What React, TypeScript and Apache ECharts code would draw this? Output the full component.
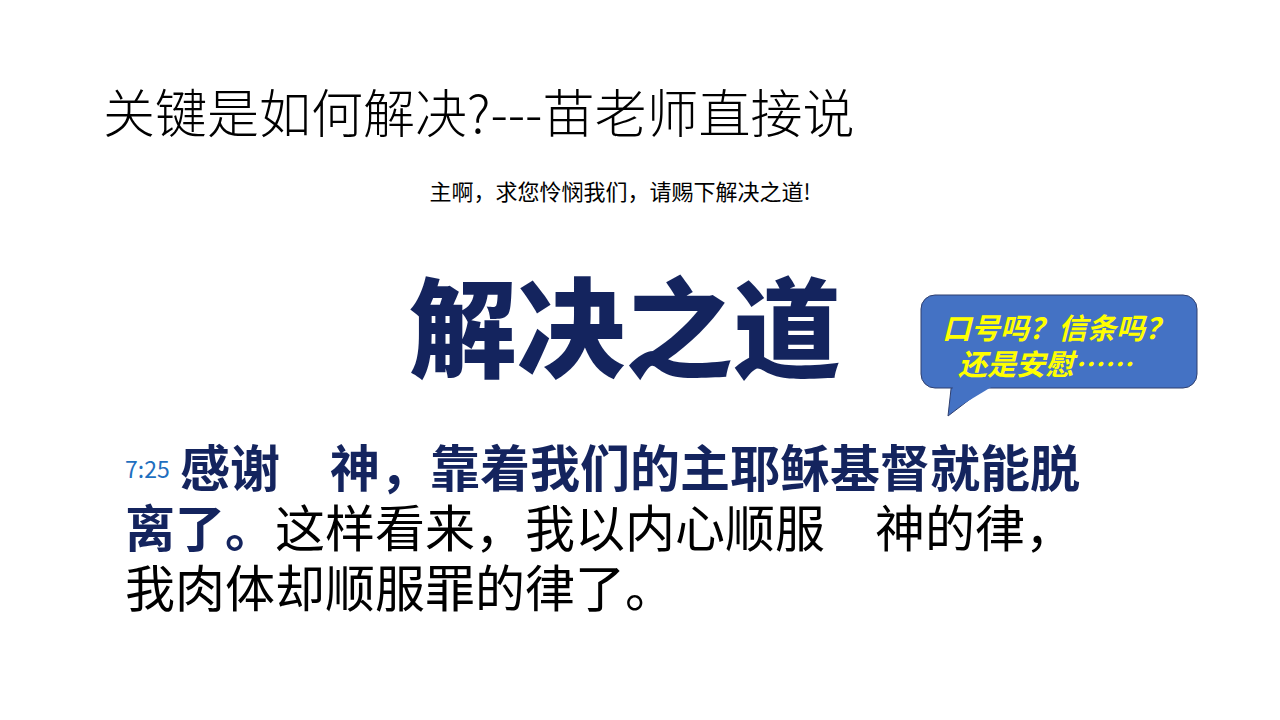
import React, { useEffect, useRef } from 'react';
import * as echarts from 'echarts';

const titleText = '关键是如何解决?---苗老师直接说';
const subtitleText = '主啊，求您怜悯我们，请赐下解决之道!';
const headingText = '解决之道';
const calloutLines = ['口号吗？信条吗？', '还是安慰……'];
const verseRef = '7:25';
const verseBold = ['感谢　神，靠着我们的主耶稣基督就能脱', '离了。'];
const verseNormal = ['这样看来，我以内心顺服　神的律，', '我肉体却顺服罪的律了。'];

const NAVY = '#14245e';
const CJK = '"Noto Sans CJK SC", sans-serif';

const App: React.FC = () => {
    const ref = useRef<HTMLDivElement | null>(null);

    useEffect(() => {
        document.body.style.margin = '0';
        if (!ref.current) return;
        const chart = echarts.init(ref.current, null, { renderer: 'svg' });
        chart.setOption({
            animation: false,
            backgroundColor: '#ffffff',
            graphic: [
                { type: 'text', x: 103, y: 110, style: { text: titleText, font: `300 52px ${CJK}`, fill: '#000', verticalAlign: 'middle' } },
                { type: 'text', x: 620, y: 190, style: { text: subtitleText, font: `normal 22px ${CJK}`, fill: '#000', align: 'center', verticalAlign: 'middle' } },
                { type: 'text', x: 625, y: 322, style: { text: headingText, font: `900 108px ${CJK}`, fill: NAVY, align: 'center', verticalAlign: 'middle' } },
                { type: 'polygon', shape: { points: [[952, 380], [948, 416], [995, 380]] }, style: { fill: '#4472c4', stroke: '#2f3f6f', lineWidth: 1 } },
                { type: 'rect', shape: { x: 921, y: 295, width: 276, height: 93, r: 14 }, style: { fill: '#4472c4', stroke: '#2f3f6f', lineWidth: 1 } },
                { type: 'polygon', shape: { points: [[953, 386], [950, 412], [993, 386]] }, style: { fill: '#4472c4' } },
                { type: 'text', x: 1058, y: 326, style: { text: calloutLines[0], font: `italic bold 29px ${CJK}`, fill: '#ffff00', align: 'center', verticalAlign: 'middle' } },
                { type: 'text', x: 1045, y: 362, style: { text: calloutLines[1], font: `italic bold 29px ${CJK}`, fill: '#ffff00', align: 'center', verticalAlign: 'middle' } },
                { type: 'text', x: 125, y: 468, style: { text: verseRef, font: `normal 23px ${CJK}`, fill: '#1f6fbf', verticalAlign: 'middle' } },
                { type: 'text', x: 180, y: 465, style: { text: verseBold[0], font: `bold 50px ${CJK}`, fill: NAVY, verticalAlign: 'middle' } },
                {
                    type: 'text', x: 125, y: 525,
                    style: {
                        text: `{b|${verseBold[1]}}{n|${verseNormal[0]}}`,
                        verticalAlign: 'middle',
                        rich: {
                            b: { font: `bold 50px ${CJK}`, fill: NAVY },
                            n: { font: `normal 50px ${CJK}`, fill: '#000' },
                        },
                    },
                },
                { type: 'text', x: 125, y: 585, style: { text: verseNormal[1], font: `normal 50px ${CJK}`, fill: '#000', verticalAlign: 'middle' } },
            ],
        });
        return () => chart.dispose();
    }, []);

    return <div ref={ref} style={{ width: 1280, height: 720 }} />;
};

export default App;
